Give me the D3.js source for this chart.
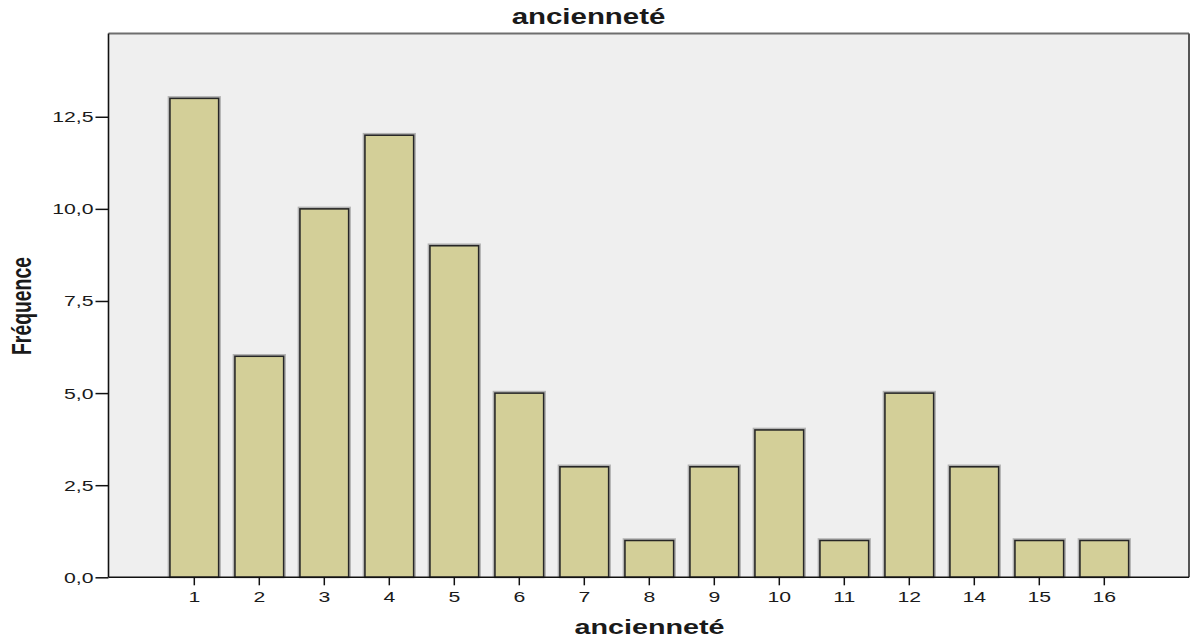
<!DOCTYPE html>
<html>
<head>
<meta charset="utf-8">
<script src="https://cdn.jsdelivr.net/npm/d3@7/dist/d3.min.js"></script>
<style>
  html, body { margin: 0; padding: 0; background: #fff; }
  svg { display: block; }
  text { font-family: "Liberation Sans", Arial, sans-serif; fill: #1a1a1a; }
</style>
</head>
<body>
<svg id="chart" width="1191" height="642"></svg>
<script>
const categories = ["1","2","3","4","5","6","7","8","9","10","11","12","14","15","16"];
const frequencies = [13, 6, 10, 12, 9, 5, 3, 1, 3, 4, 1, 5, 3, 1, 1];
const yTicks = [0, 2.5, 5, 7.5, 10, 12.5];
const chartTitle = "ancienneté";
const xTitle = "ancienneté";
const yTitle = "Fréquence";

const W = 1191, H = 642;
const frame = { left: 108.5, right: 1189, top: 33.5, bottom: 577.3 };
const SX = 1.37; // horizontal stretch of text in the reference

const svg = d3.select("#chart");

const x = d3.scaleBand()
  .domain(categories)
  .range([161.8, 1136.8])
  .paddingInner(0.25)
  .paddingOuter(0.125);

const y = d3.scaleLinear()
  .domain([0, 14.76])
  .range([frame.bottom, frame.top]);

// plot background
svg.append("rect")
  .attr("x", frame.left).attr("y", frame.top)
  .attr("width", frame.right - frame.left)
  .attr("height", frame.bottom - frame.top)
  .attr("fill", "#efefef");

// top and right borders
svg.append("line")
  .attr("x1", frame.left).attr("x2", frame.right)
  .attr("y1", frame.top).attr("y2", frame.top)
  .attr("stroke", "#6e6e6e").attr("stroke-width", 2);
svg.append("line")
  .attr("x1", frame.right).attr("x2", frame.right)
  .attr("y1", frame.top).attr("y2", frame.bottom)
  .attr("stroke", "#555").attr("stroke-width", 2);

// bars: soft shadow then bar
const g = svg.append("g");
g.selectAll("rect.shadow")
  .data(frequencies)
  .join("rect")
  .attr("class", "shadow")
  .attr("x", (d, i) => x(categories[i]) - 1.5)
  .attr("y", d => y(d) - 1.5)
  .attr("width", x.bandwidth() + 3)
  .attr("height", d => y(0) - y(d) + 1.5)
  .attr("fill", "none")
  .attr("stroke", "#8a8a8a")
  .attr("stroke-width", 1.5)
  .attr("opacity", 0.6);
g.selectAll("rect.bar")
  .data(frequencies)
  .join("rect")
  .attr("class", "bar")
  .attr("x", (d, i) => x(categories[i]))
  .attr("y", d => y(d))
  .attr("width", x.bandwidth())
  .attr("height", d => y(0) - y(d))
  .attr("fill", "#d3cf98")
  .attr("stroke", "#262626")
  .attr("stroke-width", 1.6);

// Y axis
const fmt = d => d3.format(".1f")(d).replace(".", ",");
const yAxis = svg.append("g").attr("transform", `translate(${frame.left},0)`)
  .call(d3.axisLeft(y).tickValues(yTicks).tickFormat(fmt).tickSize(13).tickPadding(2));
yAxis.select(".domain").attr("stroke", "#111").attr("stroke-width", 1.6)
  .attr("d", `M0,${frame.top}V${frame.bottom}`);
yAxis.selectAll(".tick line").attr("stroke", "#111").attr("stroke-width", 1.5);
yAxis.selectAll(".tick text")
  .attr("font-size", 15.5)
  .attr("fill", "#1a1a1a")
  .each(function() {
    const t = d3.select(this);
    const xx = +t.attr("x");
    t.attr("x", null)
     .attr("transform", `translate(${xx},0) scale(${SX},1)`);
  });

// X axis
const xAxis = svg.append("g").attr("transform", `translate(0,${frame.bottom})`)
  .call(d3.axisBottom(x).tickSize(8).tickPadding(6));
xAxis.select(".domain").attr("stroke", "#111").attr("stroke-width", 1.6)
  .attr("d", `M${frame.left},0H${frame.right}`);
xAxis.selectAll(".tick line").attr("stroke", "#111").attr("stroke-width", 1.5);
xAxis.selectAll(".tick text")
  .attr("font-size", 15.5)
  .attr("fill", "#1a1a1a")
  .each(function() {
    const t = d3.select(this);
    const yy = +t.attr("y");
    t.attr("y", null)
     .attr("transform", `translate(0,${yy}) scale(${SX},1)`);
  });

// Titles
svg.append("text")
  .attr("transform", `translate(588.5,24) scale(${SX},1)`)
  .attr("text-anchor", "middle")
  .attr("font-weight", "bold")
  .attr("font-size", 21.5)
  .text(chartTitle);

svg.append("text")
  .attr("transform", `translate(649.5,634) scale(${SX},1)`)
  .attr("text-anchor", "middle")
  .attr("font-weight", "bold")
  .attr("font-size", 21)
  .text(xTitle);

svg.append("text")
  .attr("transform", `translate(31,306) scale(${SX},1) rotate(-90)`)
  .attr("text-anchor", "middle")
  .attr("font-weight", "bold")
  .attr("font-size", 19.5)
  .attr("textLength", 98)
  .attr("lengthAdjust", "spacingAndGlyphs")
  .text(yTitle);
</script>
</body>
</html>
